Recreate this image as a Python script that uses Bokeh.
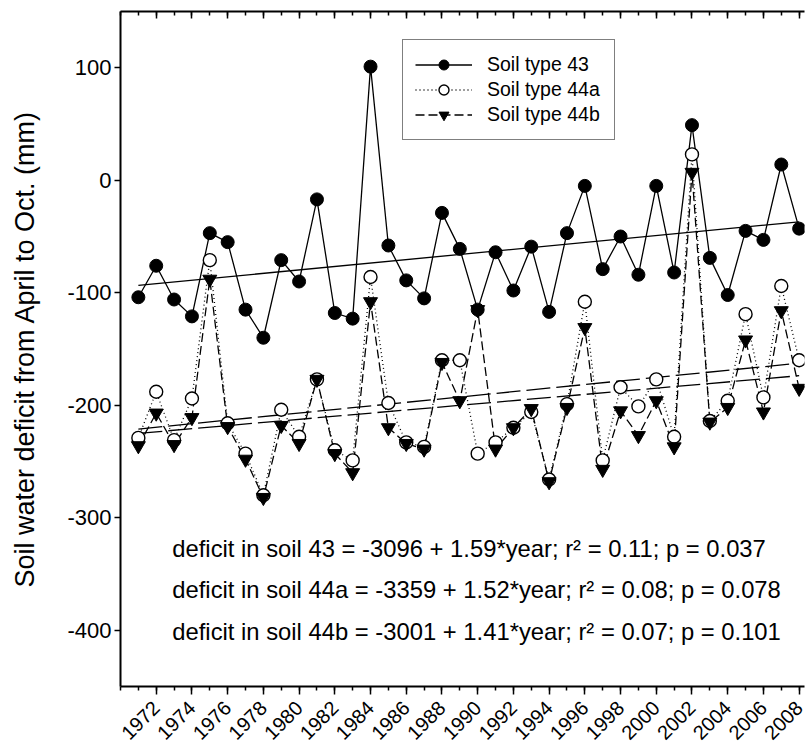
import math
import numpy as np
from bokeh.plotting import figure
from bokeh.models import (Range1d, LinearAxis, FixedTicker, Legend, LegendItem, Label,
                          CustomJSTickFormatter)
from bokeh.embed import file_html
from bokeh.resources import INLINE

# ---------------- data ----------------
years = list(range(1971, 2009))
soil_43 = [-104, -76, -106, -121, -47, -55, -115, -140, -71, -90, -17, -118, -123, 101,
           -58, -89, -105, -29, -61, -115, -64, -98, -59, -117, -47, -5, -79, -50, -84,
           -5, -82, 49, -69, -102, -45, -53, 14, -43]
soil_44a = [-229, -188, -231, -194, -71, -216, -243, -280, -204, -228, -177, -240, -249, -86,
            -198, -233, -237, -160, -160, -243, -233, -220, -206, -266, -199, -108, -249,
            -184, -201, -177, -228, 23, -214, -196, -119, -193, -94, -160]
soil_44b = [-236, -207, -235, -211, -88, -219, -248, -282, -218, -234, -177, -243, -260, -108,
            -220, -234, -239, -162, -196, -115, -239, -220, -203, -268, -202, -131, -257,
            -205, -227, -196, -237, 7, -215, -202, -142, -206, -116, -185]
series_labels = ["Soil type 43", "Soil type 44a", "Soil type 44b"]
y_ticks = [-400, -300, -200, -100, 0, 100]
x_major_ticks = list(range(1972, 2009, 2))
x_minor_ticks = list(range(1970, 2010))
equations = [
    "deficit in soil 43 = -3096 + 1.59*year; r\u00b2 = 0.11; p = 0.037",
    "deficit in soil 44a = -3359 + 1.52*year; r\u00b2 = 0.08; p = 0.078",
    "deficit in soil 44b = -3001 + 1.41*year; r\u00b2 = 0.07; p = 0.101",
]
y_title = "Soil water deficit from April to Oct. (mm)"

FONT = "Liberation Sans"

p = figure(frame_width=684, frame_height=675,
           x_range=Range1d(1970, 2008.3), y_range=Range1d(-450, 150),
           output_backend="svg", toolbar_location=None,
           min_border_left=120, min_border_right=4, min_border_top=11, min_border_bottom=40,
           x_axis_location=None, y_axis_location=None)
p.outline_line_color = None
p.xgrid.visible = False
p.ygrid.visible = False
p.background_fill_color = "white"

# axes
xt = FixedTicker(ticks=x_major_ticks, minor_ticks=x_minor_ticks)
yt = FixedTicker(ticks=y_ticks, minor_ticks=[])

yax = LinearAxis(ticker=yt, axis_label=y_title)
yax.axis_line_width = 2
yax.major_tick_out = 6
yax.major_tick_in = 0
yax.minor_tick_out = 0
yax.minor_tick_in = 0
yax.major_tick_line_width = 1.5
yax.major_label_overrides = {t: str(t) for t in y_ticks}
yax.major_label_text_font = FONT
yax.major_label_text_font_size = "22px"
yax.major_label_text_color = "black"
yax.major_label_standoff = 3
yax.axis_label_text_font = FONT
yax.axis_label_text_font_size = "27px"
yax.axis_label_text_font_style = "normal"
yax.axis_label_text_color = "black"
yax.axis_label_standoff = 24
p.add_layout(yax, "left")

xax = LinearAxis(ticker=xt)
xax.axis_line_width = 2
xax.major_tick_out = 8
xax.major_tick_in = 0
xax.minor_tick_out = 4
xax.minor_tick_in = 0
xax.major_tick_line_width = 1.5
xax.minor_tick_line_width = 1.5
xax.major_label_orientation = math.pi / 4
xax.major_label_text_font = FONT
xax.major_label_text_font_size = "20px"
xax.major_label_text_color = "black"
xax.major_label_standoff = 10
p.add_layout(xax, "below")

tax = LinearAxis(ticker=xt)
tax.axis_line_width = 2
tax.major_tick_out = 0
tax.major_tick_in = 7
tax.minor_tick_out = 0
tax.minor_tick_in = 4
tax.major_tick_line_width = 1.5
tax.minor_tick_line_width = 1.5
tax.formatter = CustomJSTickFormatter(code="return '';")
tax.major_label_standoff = 0
p.add_layout(tax, "above")

# connecting lines
l43 = p.line(years, soil_43, line_color="black", line_width=1.3)
l44a = p.line(years, soil_44a, line_color="black", line_width=1.3, line_dash="1 3")
l44b = p.line(years, soil_44b, line_color="black", line_width=1.3, line_dash="9 4")

# regression lines computed from data
xr = np.array([years[0], years[-1]], dtype=float)
for series, dash in ((soil_43, "solid"), (soil_44a, "24 6"), (soil_44b, "24 6")):
    b, a = np.polyfit(years, series, 1)
    p.line(xr, a + b * xr, line_color="black", line_width=1.3, line_dash=dash)

# markers
m44a = p.scatter(years, soil_44a, marker="circle", size=13, fill_color="white",
                 line_color="black", line_width=1.4)
m44b = p.scatter(years, soil_44b, marker="inverted_triangle", size=14, fill_color="black",
                 line_color="black", line_width=1)
m43 = p.scatter(years, soil_43, marker="circle", size=13, fill_color="black",
                line_color="black", line_width=1)

legend = Legend(items=[
    LegendItem(label=series_labels[0], renderers=[l43, m43]),
    LegendItem(label=series_labels[1], renderers=[l44a, m44a]),
    LegendItem(label=series_labels[2], renderers=[l44b, m44b]),
], location=(282, 546))
legend.padding = 12
legend.spacing = 0
legend.margin = 0
legend.glyph_width = 57
legend.glyph_height = 25
legend.label_height = 25
legend.label_width = 115
legend.label_standoff = 15
legend.border_line_color = "black"
legend.border_line_width = 1
legend.background_fill_color = "white"
legend.background_fill_alpha = 1
legend.label_text_font = FONT
legend.label_text_font_size = "19.5px"
legend.label_text_color = "black"
p.add_layout(legend)

eq_y = [-327, -364, -401]
for txt, yy in zip(equations, eq_y):
    p.add_layout(Label(x=1972.9, y=yy, text=txt, text_font=FONT, text_font_size="23.8px",
                       text_color="black", text_baseline="alphabetic", text_align="left"))

open("out.html", "w").write(file_html(p, INLINE))
